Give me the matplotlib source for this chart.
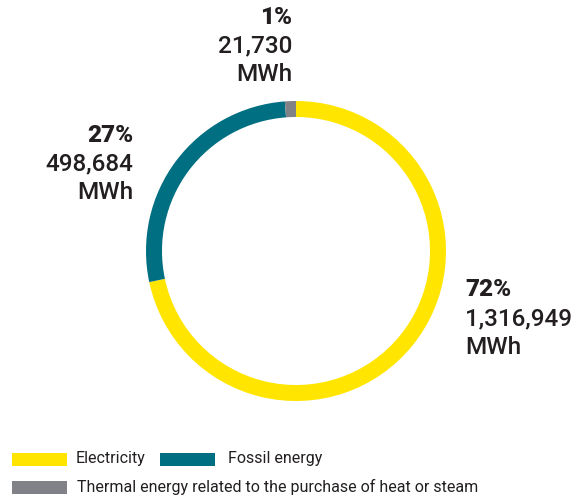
import matplotlib.pyplot as plt
import matplotlib.patches as mpatches

# data
categories = ['Electricity', 'Fossil energy', 'Thermal energy related to the purchase of heat or steam']
values_mwh = [1316949, 498684, 21730]
percent_labels = ['72%', '27%', '1%']
colors = ['#FFE500', '#006F82', '#808287']
text_color = '#231F20'

plt.rcParams['font.family'] = ['Roboto', 'DejaVu Sans']

fig = plt.figure(figsize=(5.86, 4.99), dpi=100)
ax = fig.add_axes([0, 0, 1, 1])

# donut, pixel coordinates (y up)
ax.pie(values_mwh, colors=colors, startangle=90, counterclock=False,
       center=(296, 248), radius=150, frame=True,
       wedgeprops=dict(width=16, linewidth=0))
ax.set_xlim(0, 586)
ax.set_ylim(0, 499)
ax.set_aspect('equal')
ax.axis('off')

# value labels: (x, y of first line, ha)
label_pos = [(465, 209, 'left'), (133, 364, 'right'), (292, 482, 'right')]
for (x, y, ha), pct, v in zip(label_pos, percent_labels, values_mwh):
    ax.text(x, y, pct, ha=ha, va='center', fontsize=17.5, fontweight='heavy', color=text_color)
    ax.text(x, y - 28.5, f'{v:,}', ha=ha, va='center', fontsize=17.5, fontweight='medium', color=text_color)
    ax.text(x, y - 57, 'MWh', ha=ha, va='center', fontsize=17.5, fontweight='medium', color=text_color)

# legend
legend_items = [(12, 40, 76), (160, 40, 228), (12, 12, 77)]
for (px, py, tx), cat, c in zip(legend_items, categories, colors):
    ax.add_patch(mpatches.Rectangle((px, py - 6.5), 55, 13, color=c, lw=0))
    ax.text(tx, py, cat, ha='left', va='center', fontsize=11.5, color=text_color)

fig.savefig('out.png', dpi=100)
